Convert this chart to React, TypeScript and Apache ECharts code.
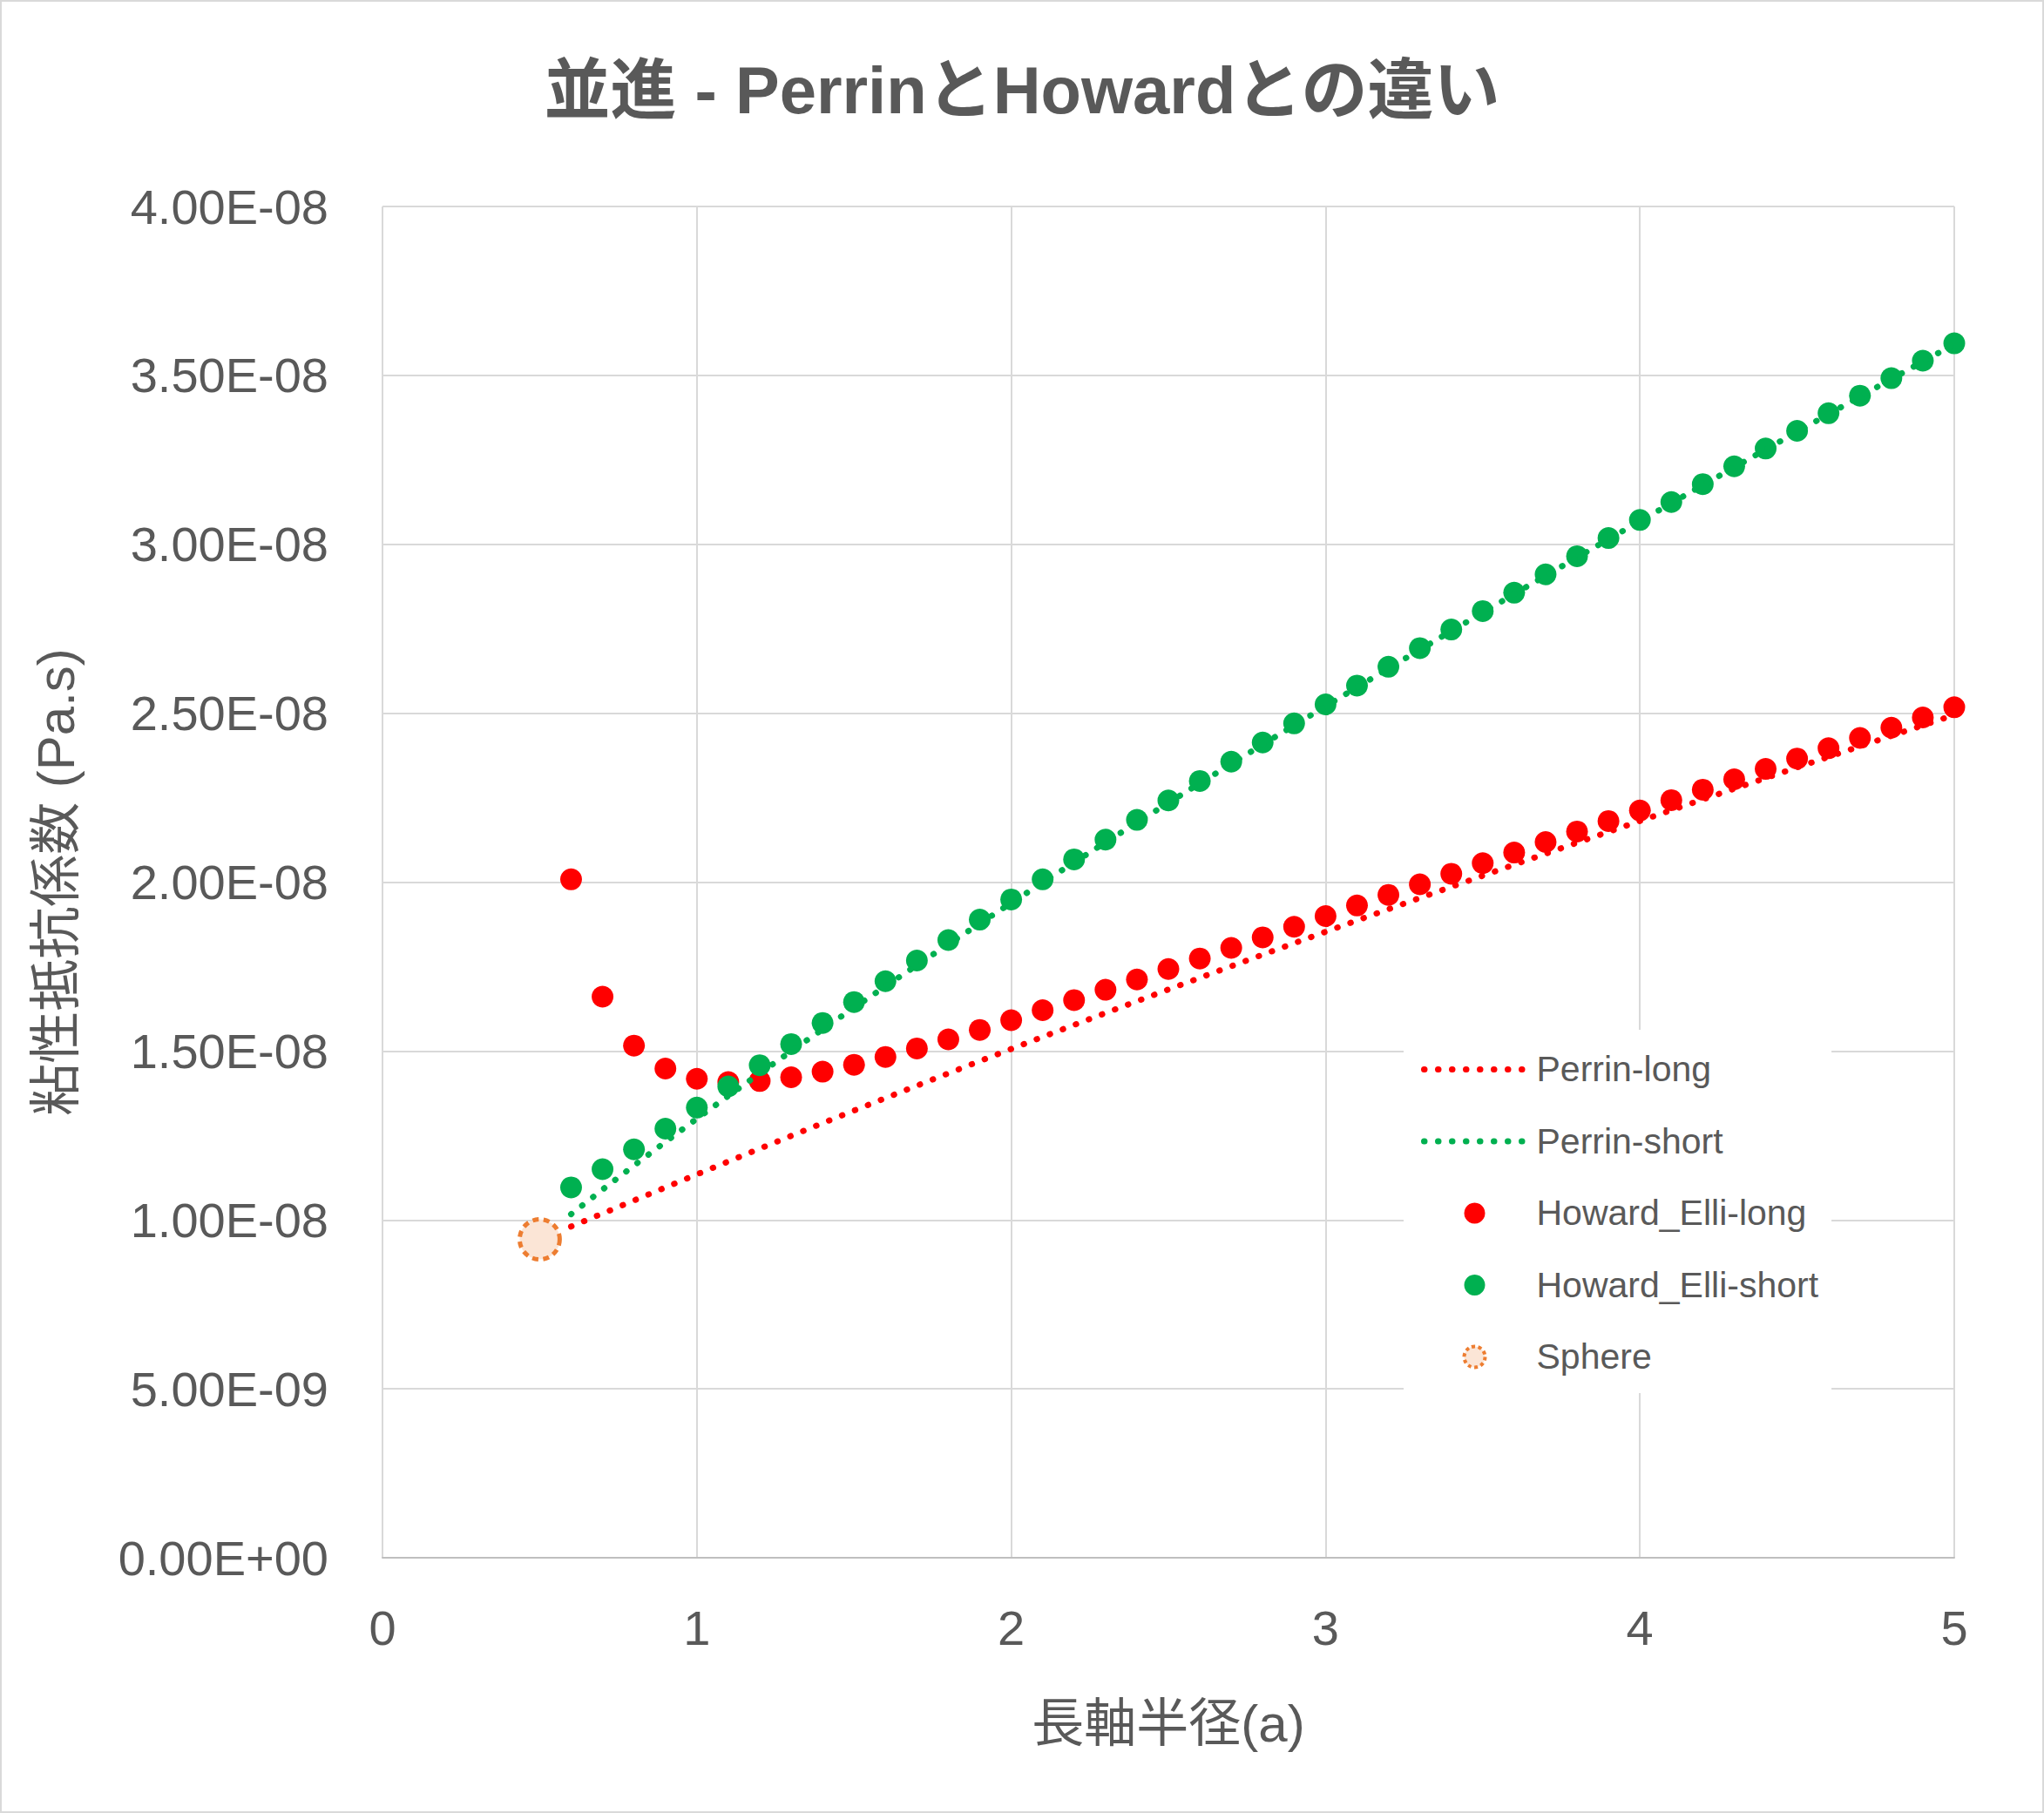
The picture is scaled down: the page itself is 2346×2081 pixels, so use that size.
import React, { useEffect, useRef } from "react";
import * as echarts from "echarts";

const W = 2346;
const H = 2081;
const UNIT = 1e-8;

const titleText = "並進 - PerrinとHowardとの違い";
const xAxisName = "長軸半径(a)";
const yAxisName = "粘性抵抗係数 (Pa.s)";

const seriesNames = ["Perrin-long", "Perrin-short", "Howard_Elli-long", "Howard_Elli-short", "Sphere"];

// long semi-axis a
const aValues = [
  0.6, 0.7, 0.8, 0.9, 1.0, 1.1, 1.2, 1.3, 1.4, 1.5, 1.6, 1.7, 1.8, 1.9, 2.0,
  2.1, 2.2, 2.3, 2.4, 2.5, 2.6, 2.7, 2.8, 2.9, 3.0, 3.1, 3.2, 3.3, 3.4, 3.5,
  3.6, 3.7, 3.8, 3.9, 4.0, 4.1, 4.2, 4.3, 4.4, 4.5, 4.6, 4.7, 4.8, 4.9, 5.0,
];

// values in units of 1e-8 Pa.s
const perrinLong = [
  0.9805, 1.019, 1.0576, 1.0962, 1.1347, 1.173, 1.211, 1.2489, 1.2864, 1.3237,
  1.3607, 1.3974, 1.4339, 1.4701, 1.506, 1.5417, 1.5772, 1.6124, 1.6474, 1.6821,
  1.7167, 1.751, 1.7852, 1.8191, 1.8529, 1.8864, 1.9198, 1.953, 1.986, 2.0189,
  2.0516, 2.0842, 2.1166, 2.1488, 2.1809, 2.2129, 2.2448, 2.2765, 2.308, 2.3395,
  2.3708, 2.402, 2.4331, 2.464, 2.4949,
];
const perrinShort = [
  1.017, 1.0897, 1.161, 1.2309, 1.2996, 1.3672, 1.4338, 1.4994, 1.5642, 1.6283,
  1.6915, 1.7541, 1.8161, 1.8774, 1.9382, 1.9985, 2.0582, 2.1174, 2.1762, 2.2346,
  2.2925, 2.3501, 2.4072, 2.464, 2.5205, 2.5766, 2.6324, 2.6879, 2.7431, 2.7979,
  2.8526, 2.9069, 2.961, 3.0148, 3.0684, 3.1217, 3.1749, 3.2278, 3.2805, 3.3329,
  3.3852, 3.4373, 3.4891, 3.5408, 3.5923,
];
const howardLong = [
  2.0081, 1.6609, 1.516, 1.4482, 1.4179, 1.4082, 1.4111, 1.4222, 1.4388, 1.4592,
  1.4824, 1.5077, 1.5345, 1.5624, 1.5912, 1.6208, 1.6508, 1.6812, 1.7119, 1.7428,
  1.7739, 1.8052, 1.8365, 1.8679, 1.8993, 1.9307, 1.9621, 1.9935, 2.0248, 2.0562,
  2.0874, 2.1186, 2.1498, 2.1808, 2.2118, 2.2427, 2.2736, 2.3044, 2.3351, 2.3657,
  2.3962, 2.4267, 2.4571, 2.4874, 2.5176,
];
const howardShort = [
  1.0963, 1.1502, 1.2089, 1.2701, 1.3324, 1.3951, 1.458, 1.5206, 1.583, 1.645,
  1.7066, 1.7678, 1.8285, 1.8888, 1.9487, 2.0082, 2.0672, 2.1258, 2.1841, 2.2419,
  2.2994, 2.3566, 2.4134, 2.4698, 2.526, 2.5818, 2.6374, 2.6926, 2.7476, 2.8023,
  2.8567, 2.9109, 2.9648, 3.0185, 3.0719, 3.1251, 3.1781, 3.2309, 3.2835, 3.3358,
  3.388, 3.44, 3.4918, 3.5434, 3.5948,
];
const sphereA = [0.5];
const sphereValue = [0.9425];

const xMin = 0;
const xMax = 5;
const xInterval = 1;
const yMin = 0;
const yMax = 4e-8;
const yInterval = 5e-9;

const FONT = "'Liberation Sans', 'Noto Sans CJK JP', sans-serif";
const TEXT = "#595959";
const GRID = "#d9d9d9";
const RED = "#ff0000";
const GREEN = "#00b050";

function toPairs(xs: number[], ys: number[]) {
  return xs.map((x, i) => [x, ys[i] * UNIT]);
}

function sci(v: number): string {
  if (v === 0) return "0.00E+00";
  const s = v.toExponential(2);
  const [m, e] = s.split("e");
  const n = parseInt(e, 10);
  return m + "E" + (n < 0 ? "-" : "+") + String(Math.abs(n)).padStart(2, "0");
}

export default function App() {
  const ref = useRef<HTMLDivElement>(null);
  useEffect(() => {
    if (!ref.current) return;
    const chart = echarts.init(ref.current, null, { renderer: "svg", width: W, height: H });
    const dotted = (color: string) => ({
      color,
      width: 7,
      type: [0.5, 15.5],
      cap: "round",
    });
    const hiddenSymbol = { color: "rgba(0,0,0,0)", borderWidth: 0, opacity: 0 };
    chart.setOption({
      animation: false,
      backgroundColor: "#ffffff",
      title: {
        text: titleText,
        left: "center",
        top: 65,
        padding: 0,
        textStyle: { fontSize: 76, fontWeight: "bold", color: TEXT, fontFamily: FONT, lineHeight: 76 },
      },
      graphic: [
        {
          type: "rect",
          shape: { x: 1, y: 1, width: W - 2, height: H - 2 },
          style: { fill: "none", stroke: GRID, lineWidth: 2 },
          silent: true,
          z: 100,
        },
      ],
      grid: { left: 439, right: W - 2243, top: 237, bottom: H - 1788, containLabel: false },
      xAxis: {
        type: "value",
        min: xMin,
        max: xMax,
        interval: xInterval,
        name: xAxisName,
        nameLocation: "middle",
        nameGap: 160,
        nameTextStyle: { fontSize: 60, color: TEXT, fontFamily: FONT },
        axisLine: { show: true, lineStyle: { color: "#bfbfbf", width: 2 } },
        axisTick: { show: false },
        axisLabel: { fontSize: 56, color: TEXT, fontFamily: FONT, margin: 52 },
        splitLine: { show: true, lineStyle: { color: GRID, width: 2 } },
      },
      yAxis: {
        type: "value",
        min: yMin,
        max: yMax,
        interval: yInterval,
        name: yAxisName,
        nameLocation: "middle",
        nameRotate: 90,
        nameGap: 345,
        nameTextStyle: { fontSize: 60, color: TEXT, fontFamily: FONT },
        axisLine: { show: false },
        axisTick: { show: false },
        axisLabel: { fontSize: 56, color: TEXT, fontFamily: FONT, margin: 62, formatter: sci },
        splitLine: { show: true, lineStyle: { color: GRID, width: 2 } },
      },
      legend: {
        orient: "vertical",
        left: 1611,
        top: 1182,
        padding: [25, 15, 21, 20],
        backgroundColor: "#ffffff",
        itemWidth: 116,
        itemHeight: 24,
        itemGap: 41.5,
        lineStyle: { width: 7 },
        textStyle: { fontSize: 41, color: TEXT, fontFamily: FONT, lineHeight: 40, padding: [0, 0, 0, 8] },
        data: [
          { name: seriesNames[0], itemStyle: hiddenSymbol },
          { name: seriesNames[1], itemStyle: hiddenSymbol },
          { name: seriesNames[2] },
          { name: seriesNames[3] },
          { name: seriesNames[4], itemStyle: { borderWidth: 4, borderType: [4, 3.5] } },
        ],
      },
      series: [
        {
          name: seriesNames[0],
          type: "line",
          data: toPairs(aValues, perrinLong),
          symbol: "none",
          lineStyle: dotted(RED),
          itemStyle: { color: RED },
          emphasis: { disabled: true },
        },
        {
          name: seriesNames[1],
          type: "line",
          data: toPairs(aValues, perrinShort),
          symbol: "none",
          lineStyle: dotted(GREEN),
          itemStyle: { color: GREEN },
          emphasis: { disabled: true },
        },
        {
          name: seriesNames[2],
          type: "scatter",
          data: toPairs(aValues, howardLong),
          symbol: "circle",
          symbolSize: 25,
          itemStyle: { color: RED, opacity: 1 },
          clip: false,
          emphasis: { disabled: true },
        },
        {
          name: seriesNames[3],
          type: "scatter",
          data: toPairs(aValues, howardShort),
          symbol: "circle",
          symbolSize: 25,
          itemStyle: { color: GREEN, opacity: 1 },
          clip: false,
          emphasis: { disabled: true },
        },
        {
          name: seriesNames[4],
          type: "scatter",
          data: toPairs(sphereA, sphereValue),
          symbol: "circle",
          symbolSize: 46,
          itemStyle: {
            color: "#fbe5d6",
            borderColor: "#ed7d31",
            borderWidth: 5,
            borderType: [7, 5.5],
            opacity: 1,
          },
          clip: false,
          emphasis: { disabled: true },
        },
      ],
    });
    return () => chart.dispose();
  }, []);
  return (
    <div
      ref={ref}
      style={{ position: "absolute", left: 0, top: 0, width: W, height: H }}
    />
  );
}
